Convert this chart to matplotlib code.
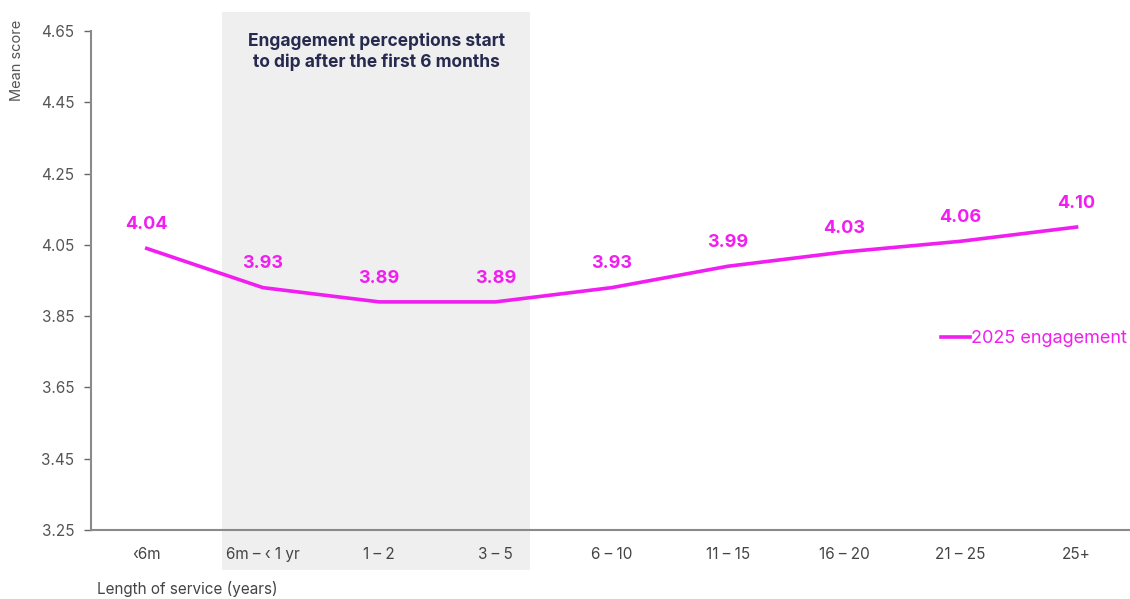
import matplotlib.pyplot as plt
from matplotlib.patches import Rectangle
import matplotlib.transforms as mtransforms

# 按服务年限的敬业度平均分
categories = ['‹6m', '6m – ‹ 1 yr', '1 – 2', '3 – 5', '6 – 10', '11 – 15', '16 – 20', '21 – 25', '25+']
scores = [4.04, 3.93, 3.89, 3.89, 3.93, 3.99, 4.03, 4.06, 4.10]
yticks = [3.25, 3.45, 3.65, 3.85, 4.05, 4.25, 4.45, 4.65]

plt.rcParams['font.family'] = ['Inter', 'DejaVu Sans']

fig = plt.figure(figsize=(11.3, 5.99), dpi=100)
ax = fig.add_axes([0.0805, 0.1152, 0.9195, 0.833])

x = list(range(len(categories)))

# 灰色高亮区域（6m 到 3-5 年）
trans = mtransforms.blended_transform_factory(ax.transData, fig.transFigure)
ax.add_patch(Rectangle((0.645, 0.048), 2.655, 0.932, transform=trans,
                       facecolor='#efefef', edgecolor='none', clip_on=False, zorder=0))

ax.plot(x, scores, color='#f01ef0', lw=2.6, label='2025 engagement', zorder=3)

for xi, s in zip(x, scores):
    ax.annotate(f'{s:.2f}', (xi, s), xytext=(0, 11), textcoords='offset points',
                ha='center', va='bottom', color='#f01ef0', fontsize=13, fontweight='bold')

ax.text(1.98, 4.645, 'Engagement perceptions start\nto dip after the first 6 months',
        ha='center', va='top', fontsize=12.5, fontweight='bold', color='#262a4e',
        linespacing=1.25)

ax.set_xlim(-0.48, 8.46)
ax.set_ylim(3.25, 4.65)
ax.set_yticks(yticks)
ax.set_yticklabels([f'{t:.2f}' for t in yticks])
ax.set_xticks(x)
ax.set_xticklabels(categories)

for side in ['top', 'right']:
    ax.spines[side].set_visible(False)
for side in ['left', 'bottom']:
    ax.spines[side].set_color('#8a8a8a')
    ax.spines[side].set_linewidth(1.5)
ax.patch.set_alpha(0)

ax.tick_params(axis='y', length=5, width=1, color='#666666', labelsize=11,
               labelcolor='#555555', pad=7)
ax.tick_params(axis='x', length=0, labelsize=11, labelcolor='#444444', pad=12)

fig.text(17 / 1130, 1 - 60 / 599, 'Mean score', rotation=90, ha='center', va='center',
         fontsize=10.5, color='#555555')
fig.text(97 / 1130, 1 - 589 / 599, 'Length of service (years)', ha='left', va='center',
         fontsize=11, color='#444444')

ax.legend(loc='center right', bbox_to_anchor=(1.013, 0.383), frameon=False,
          handlelength=1.6, handletextpad=0.1, fontsize=13, labelcolor='#f01ef0')

fig.savefig('out.png', dpi=100)
